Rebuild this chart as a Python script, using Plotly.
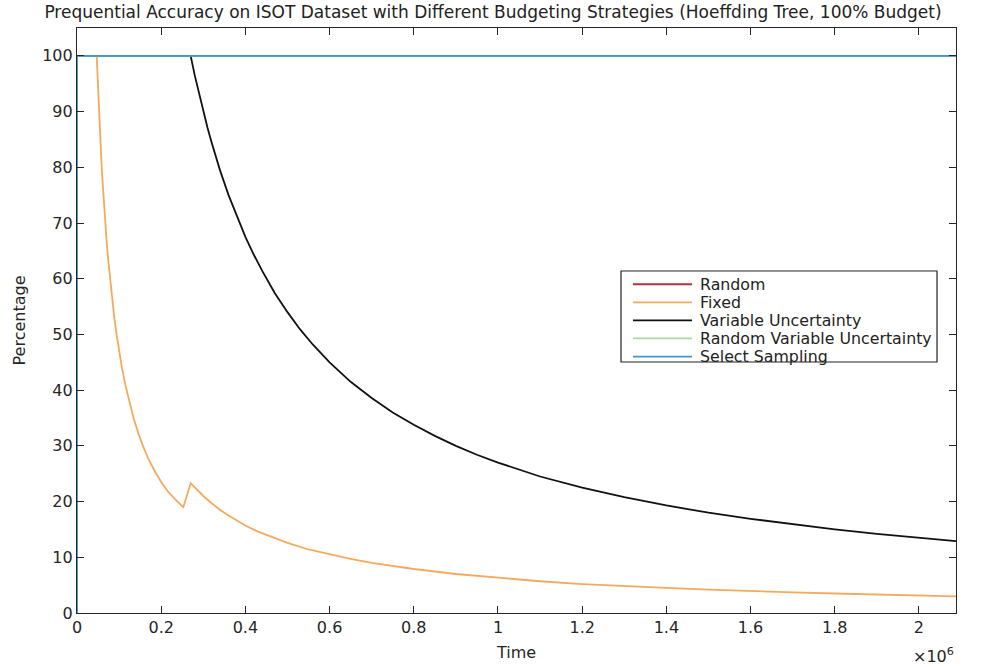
import plotly.graph_objects as go

# ---- data (time in units of 1e6, accuracy in %) ----
random_t = [0.0, 0.0, 2.088]
random_v = [0.0, 100.0, 100.0]

fixed_t = [0.0, 0.047, 0.048, 0.050, 0.052, 0.054, 0.056, 0.058, 0.060, 0.063, 0.066,
           0.070, 0.074, 0.078, 0.083, 0.088, 0.094, 0.100, 0.107, 0.115, 0.124,
           0.134, 0.145, 0.157, 0.170, 0.185, 0.200, 0.215, 0.232, 0.2525, 0.270,
           0.285, 0.300, 0.320, 0.340, 0.360, 0.380, 0.400, 0.430, 0.460, 0.500,
           0.550, 0.600, 0.650, 0.700, 0.750, 0.800, 0.900, 1.000, 1.100, 1.200,
           1.300, 1.400, 1.500, 1.600, 1.700, 1.800, 1.900, 2.000, 2.088]
fixed_v = [100.0, 100.0, 97.9, 94.0, 90.4, 87.0, 83.9, 81.0, 78.3, 74.6, 71.2,
           67.1, 63.5, 60.3, 56.6, 53.4, 50.0, 47.0, 43.9, 40.9, 37.9,
           35.1, 32.4, 29.9, 27.6, 25.4, 23.5, 21.9, 20.5, 19.0, 23.3,
           22.1, 21.0, 19.7, 18.5, 17.5, 16.6, 15.7, 14.6, 13.7, 12.6,
           11.4, 10.5, 9.7, 9.0, 8.4, 7.9, 7.0, 6.3, 5.7, 5.2,
           4.8, 4.5, 4.2, 3.9, 3.7, 3.5, 3.3, 3.15, 3.0]

varunc_t = [0.0, 0.270, 0.280, 0.290, 0.300, 0.310, 0.320, 0.330, 0.340, 0.360,
            0.380, 0.400, 0.420, 0.440, 0.470, 0.500, 0.530, 0.560, 0.600, 0.650,
            0.700, 0.750, 0.800, 0.850, 0.900, 0.950, 1.000, 1.100, 1.200, 1.300,
            1.400, 1.500, 1.600, 1.700, 1.800, 1.900, 2.000, 2.088]
varunc_v = [100.0, 100.0, 96.4, 93.1, 90.0, 87.1, 84.4, 81.8, 79.4, 75.0,
            71.1, 67.5, 64.3, 61.4, 57.4, 54.0, 50.9, 48.2, 45.0, 41.5,
            38.6, 36.0, 33.8, 31.8, 30.0, 28.4, 27.0, 24.5, 22.5, 20.8,
            19.3, 18.0, 16.9, 15.9, 15.0, 14.2, 13.5, 12.9]

rvu_t = [0.0, 0.0, 2.088]
rvu_v = [0.0, 100.0, 100.0]

select_t = [0.0, 0.0, 2.088]
select_v = [0.0, 100.0, 100.0]

series_names = ["Random", "Fixed", "Variable Uncertainty",
                "Random Variable Uncertainty", "Select Sampling"]
series_colors = ["#B2303F", "#F4AA5E", "#111111", "#A9D8A2", "#3F97CB"]

x_tickvals = [0, 0.2, 0.4, 0.6, 0.8, 1.0, 1.2, 1.4, 1.6, 1.8, 2.0]
x_ticktext = ["0", "0.2", "0.4", "0.6", "0.8", "1", "1.2", "1.4", "1.6", "1.8", "2"]
y_tickvals = [0, 10, 20, 30, 40, 50, 60, 70, 80, 90, 100]

fig = go.Figure()
all_t = [random_t, fixed_t, varunc_t, rvu_t, select_t]
all_v = [random_v, fixed_v, varunc_v, rvu_v, select_v]
for name, color, t, v in zip(series_names, series_colors, all_t, all_v):
    fig.add_trace(go.Scatter(x=t, y=v, mode="lines", name=name, showlegend=False,
                             line=dict(color=color, width=1.8)))

font_family = "DejaVu Sans, Liberation Sans, Arial, sans-serif"
axis_color = "#262626"

fig.update_layout(
    width=986, height=667,
    margin=dict(l=77, r=30, t=28, b=54),
    paper_bgcolor="white", plot_bgcolor="white",
    font=dict(family=font_family, size=16, color=axis_color),
    title=dict(text="Prequential Accuracy on ISOT Dataset with Different Budgeting Strategies (Hoeffding Tree, 100% Budget)",
               x=0.5, xanchor="center", y=0.982, yanchor="middle",
               font=dict(size=17, color="#222222"), automargin=False),
    showlegend=False,
)

fig.update_xaxes(range=[0, 2.088], tickvals=x_tickvals, ticktext=x_ticktext,
                 showgrid=False, zeroline=False, showline=True, linecolor=axis_color,
                 linewidth=1.2, mirror="ticks", ticks="inside", ticklen=7,
                 tickcolor=axis_color, tickfont=dict(size=16), automargin=False,
                 title=dict(text="Time", standoff=10, font=dict(size=16)))
fig.update_yaxes(range=[0, 105], tickvals=y_tickvals,
                 showgrid=False, zeroline=False, showline=True, linecolor=axis_color,
                 linewidth=1.2, mirror="ticks", ticks="inside", ticklen=7,
                 tickcolor=axis_color, tickfont=dict(size=16), automargin=False,
                 title=dict(text="Percentage", standoff=12, font=dict(size=16)))

# exponent label of the x axis
fig.add_annotation(x=1.0, y=-0.0735, xref="paper", yref="paper", xanchor="right",
                   yanchor="middle", showarrow=False,
                   text="×10<sup>6</sup>", font=dict(size=16, color=axis_color))

# legend box (drawn in paper coordinates, MATLAB style)
leg_x0, leg_x1, leg_y0, leg_y1 = 0.6189, 0.9784, 0.4291, 0.5846
fig.add_shape(type="rect", xref="paper", yref="paper", x0=leg_x0, x1=leg_x1,
              y0=leg_y0, y1=leg_y1, line=dict(color="#222222", width=1.2),
              fillcolor="white", layer="above")
row_top, row_step = 0.5620, 0.0309
for i, (name, color) in enumerate(zip(series_names, series_colors)):
    yy = row_top - i * row_step
    fig.add_shape(type="line", xref="paper", yref="paper", x0=0.6325, x1=0.6997,
                  y0=yy, y1=yy, line=dict(color=color, width=1.8), layer="above")
    fig.add_annotation(x=0.7065, y=yy, xref="paper", yref="paper", xanchor="left",
                       yanchor="middle", showarrow=False, text=name,
                       font=dict(size=15.8, color="#222222"))

fig.write_html("out.html")
